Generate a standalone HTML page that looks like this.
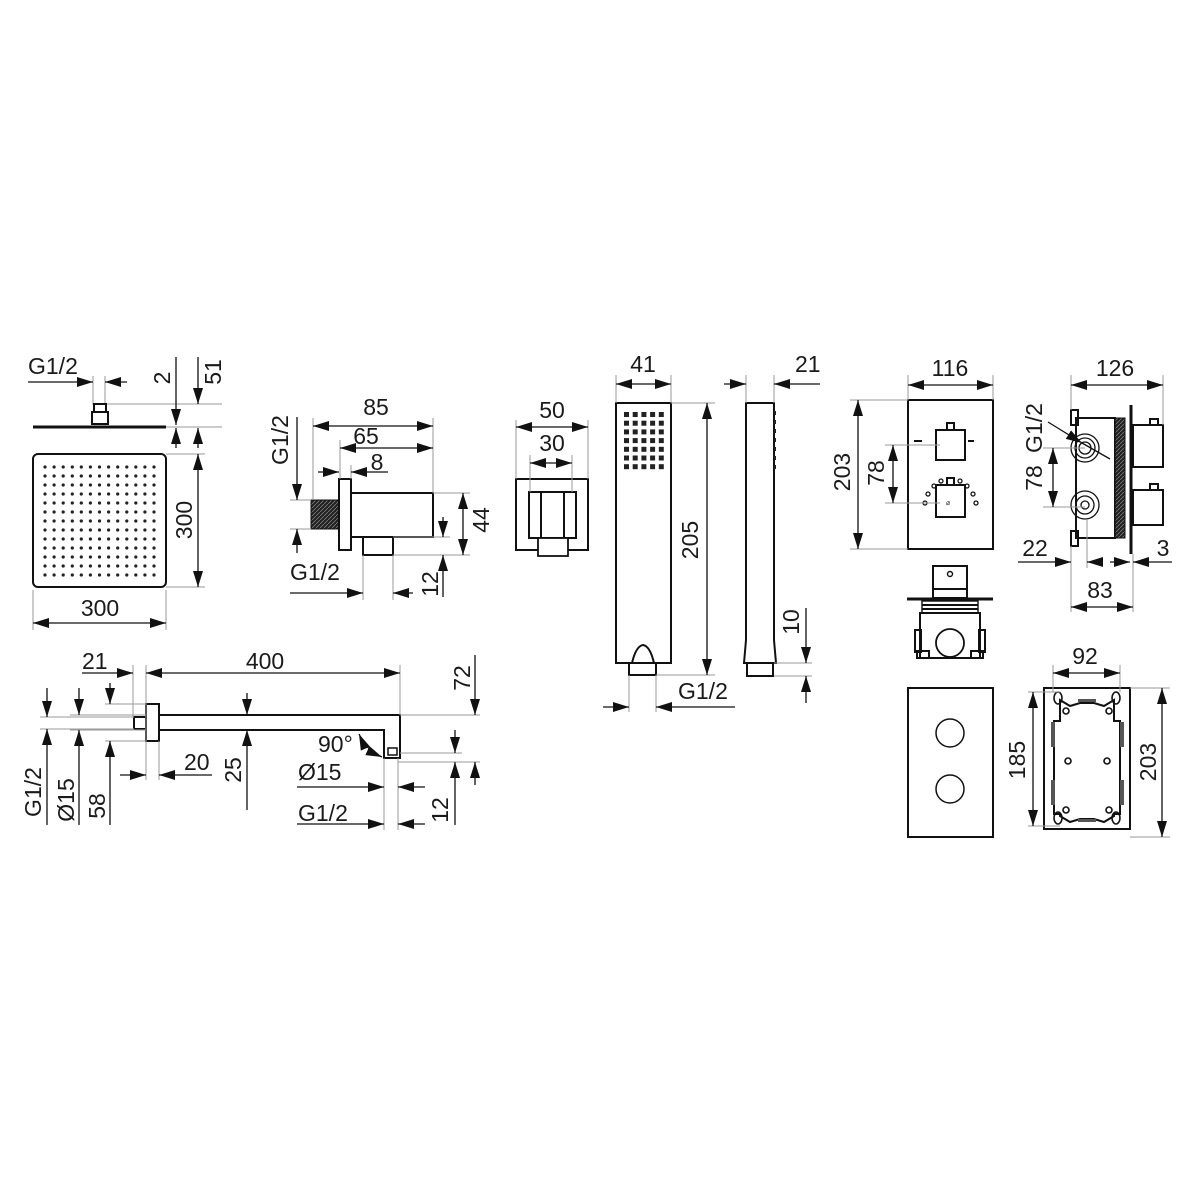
<!DOCTYPE html>
<html><head><meta charset="utf-8"><style>
html,body{margin:0;padding:0;background:#fff}
svg{display:block}
text{font-family:"Liberation Sans",sans-serif;font-size:23px;fill:#1a1a1a}
.e{stroke:#9a9a9a;stroke-width:1;fill:none}
.d{stroke:#111;stroke-width:1.3;fill:none}
.o{stroke:#111;stroke-width:2;fill:none}
</style></head><body>
<svg width="1200" height="1200" viewBox="0 0 1200 1200" xmlns="http://www.w3.org/2000/svg">
<defs>
<marker id="a" markerUnits="userSpaceOnUse" markerWidth="17" markerHeight="11" refX="16" refY="5" orient="auto-start-reverse"><path d="M0,0 L16,5 L0,10 z" fill="#111"/></marker>
<pattern id="h" width="4" height="4" patternUnits="userSpaceOnUse"><rect width="4" height="4" fill="#222"/><path d="M0,4 L4,0" stroke="#888" stroke-width="0.7"/></pattern>
</defs>

<!-- RAIN SHOWER -->
<text x="28" y="374">G1/2</text>
<line class="e" x1="93" y1="376" x2="93" y2="405"/><line class="e" x1="105" y1="376" x2="105" y2="405"/>
<line class="d" x1="28" y1="382" x2="93" y2="382" marker-end="url(#a)"/>
<line class="d" x1="127" y1="382" x2="105" y2="382" marker-end="url(#a)"/>
<rect class="o" x="94" y="404" width="12" height="8" stroke-width="1.5"/>
<rect class="o" x="92" y="412" width="16" height="12" stroke-width="1.5"/>
<line x1="33" y1="427" x2="166" y2="427" stroke="#111" stroke-width="3"/>
<line class="e" x1="107" y1="404" x2="222" y2="404"/><line class="e" x1="166" y1="427" x2="222" y2="427"/>
<line class="d" x1="176" y1="357" x2="176" y2="425" marker-end="url(#a)"/>
<line class="d" x1="176" y1="448" x2="176" y2="428" marker-end="url(#a)"/>
<line class="d" x1="198" y1="357" x2="198" y2="404" marker-end="url(#a)"/>
<line class="d" x1="198" y1="448" x2="198" y2="428" marker-end="url(#a)"/>
<text transform="translate(162,378) rotate(-90)" text-anchor="middle" dominant-baseline="central">2</text>
<text transform="translate(213,372) rotate(-90)" text-anchor="middle" dominant-baseline="central">51</text>
<rect class="o" x="33" y="454" width="133" height="133" rx="5" stroke-width="1.6"/>
<line class="e" x1="166" y1="454" x2="205" y2="454"/><line class="e" x1="166" y1="587" x2="205" y2="587"/>
<line class="d" x1="198" y1="454" x2="198" y2="587" marker-start="url(#a)" marker-end="url(#a)"/>
<text transform="translate(184,520) rotate(-90)" text-anchor="middle" dominant-baseline="central">300</text>
<line class="e" x1="33" y1="590" x2="33" y2="630"/><line class="e" x1="166" y1="590" x2="166" y2="630"/>
<line class="d" x1="33" y1="623" x2="166" y2="623" marker-start="url(#a)" marker-end="url(#a)"/>
<text x="100" y="616" text-anchor="middle">300</text>

<!-- WALL OUTLET -->
<rect x="311" y="500" width="28" height="29" fill="url(#h)" stroke="#111" stroke-width="1"/>
<rect class="o" x="339" y="479" width="12" height="71" stroke-width="1.6"/>
<rect class="o" x="351" y="493" width="82" height="44" stroke-width="1.6"/>
<rect class="o" x="363" y="537" width="30" height="18" stroke-width="1.6"/>
<line class="e" x1="313" y1="418" x2="313" y2="500"/><line class="e" x1="433" y1="418" x2="433" y2="493"/>
<line class="d" x1="313" y1="426" x2="433" y2="426" marker-start="url(#a)" marker-end="url(#a)"/>
<text x="376" y="415" text-anchor="middle">85</text>
<line class="e" x1="340" y1="440" x2="340" y2="479"/>
<line class="d" x1="340" y1="448" x2="433" y2="448" marker-start="url(#a)" marker-end="url(#a)"/>
<text x="366" y="444" text-anchor="middle">65</text>
<line class="e" x1="351" y1="465" x2="351" y2="479"/>
<line class="d" x1="318" y1="472" x2="339" y2="472" marker-end="url(#a)"/>
<line class="d" x1="388" y1="472" x2="351" y2="472" marker-end="url(#a)"/>
<text x="377" y="470" text-anchor="middle">8</text>
<line class="e" x1="290" y1="500" x2="311" y2="500"/><line class="e" x1="290" y1="529" x2="311" y2="529"/>
<line class="d" x1="297" y1="417" x2="297" y2="500" marker-end="url(#a)"/>
<line class="d" x1="297" y1="553" x2="297" y2="529" marker-end="url(#a)"/>
<text transform="translate(280,440) rotate(-90)" text-anchor="middle" dominant-baseline="central">G1/2</text>
<line class="e" x1="433" y1="493" x2="470" y2="493"/><line class="e" x1="393" y1="555" x2="470" y2="555"/><line class="e" x1="393" y1="537" x2="450" y2="537"/>
<line class="d" x1="463" y1="493" x2="463" y2="555" marker-start="url(#a)" marker-end="url(#a)"/>
<text transform="translate(481,520) rotate(-90)" text-anchor="middle" dominant-baseline="central">44</text>
<line class="d" x1="443" y1="517" x2="443" y2="537" marker-end="url(#a)"/>
<line class="d" x1="443" y1="597" x2="443" y2="555" marker-end="url(#a)"/>
<text transform="translate(430,584) rotate(-90)" text-anchor="middle" dominant-baseline="central">12</text>
<text x="290" y="580">G1/2</text>
<line class="e" x1="363" y1="555" x2="363" y2="600"/><line class="e" x1="393" y1="555" x2="393" y2="600"/>
<line class="d" x1="290" y1="593" x2="363" y2="593" marker-end="url(#a)"/>
<line class="d" x1="413" y1="593" x2="393" y2="593" marker-end="url(#a)"/>

<!-- SHOWER ARM -->
<rect class="o" x="134" y="717" width="12" height="12" stroke-width="2.5"/>
<rect class="o" x="146" y="704" width="13" height="37" stroke-width="1.8"/>
<path class="o" d="M159,715 H400 V758 H384 V730 H159" stroke-width="2.2"/>
<rect x="388" y="748" width="9" height="7" fill="none" stroke="#111" stroke-width="1.5"/>
<text x="82" y="669">21</text>
<text x="265" y="669" text-anchor="middle">400</text>
<line class="e" x1="133" y1="665" x2="133" y2="717"/><line class="e" x1="146" y1="665" x2="146" y2="780"/><line class="e" x1="159" y1="741" x2="159" y2="780"/><line class="e" x1="400" y1="665" x2="400" y2="715"/>
<line class="d" x1="82" y1="673" x2="133" y2="673" marker-end="url(#a)"/>
<line class="d" x1="146" y1="673" x2="400" y2="673" marker-start="url(#a)" marker-end="url(#a)"/>
<line class="d" x1="120" y1="775" x2="146" y2="775" marker-end="url(#a)"/>
<line class="d" x1="212" y1="775" x2="159" y2="775" marker-end="url(#a)"/>
<text x="184" y="770">20</text>
<line class="e" x1="40" y1="717" x2="134" y2="717"/><line class="e" x1="40" y1="729" x2="134" y2="729"/>
<line class="e" x1="70" y1="715" x2="146" y2="715"/><line class="e" x1="70" y1="730" x2="146" y2="730"/>
<line class="e" x1="105" y1="704" x2="146" y2="704"/><line class="e" x1="105" y1="741" x2="146" y2="741"/>
<line class="d" x1="47" y1="688" x2="47" y2="717" marker-end="url(#a)"/><line class="d" x1="47" y1="825" x2="47" y2="729" marker-end="url(#a)"/>
<line class="d" x1="79" y1="688" x2="79" y2="715" marker-end="url(#a)"/><line class="d" x1="79" y1="825" x2="79" y2="730" marker-end="url(#a)"/>
<line class="d" x1="110" y1="683" x2="110" y2="704" marker-end="url(#a)"/><line class="d" x1="110" y1="825" x2="110" y2="741" marker-end="url(#a)"/>
<text transform="translate(33,792) rotate(-90)" text-anchor="middle" dominant-baseline="central">G1/2</text>
<text transform="translate(66,800) rotate(-90)" text-anchor="middle" dominant-baseline="central">Ø15</text>
<text transform="translate(97,806) rotate(-90)" text-anchor="middle" dominant-baseline="central">58</text>
<line class="d" x1="247" y1="693" x2="247" y2="715" marker-end="url(#a)"/><line class="d" x1="247" y1="810" x2="247" y2="730" marker-end="url(#a)"/>
<text transform="translate(233,770) rotate(-90)" text-anchor="middle" dominant-baseline="central">25</text>
<line class="e" x1="400" y1="715" x2="480" y2="715"/><line class="e" x1="400" y1="753" x2="462" y2="753"/><line class="e" x1="398" y1="762" x2="480" y2="762"/>
<line class="d" x1="475" y1="655" x2="475" y2="715" marker-end="url(#a)"/><line class="d" x1="475" y1="785" x2="475" y2="762" marker-end="url(#a)"/>
<text transform="translate(462,678) rotate(-90)" text-anchor="middle" dominant-baseline="central">72</text>
<line class="d" x1="455" y1="730" x2="455" y2="753" marker-end="url(#a)"/><line class="d" x1="455" y1="825" x2="455" y2="762" marker-end="url(#a)"/>
<text transform="translate(440,810) rotate(-90)" text-anchor="middle" dominant-baseline="central">12</text>
<text x="318" y="752">90°</text>
<path class="d" d="M359,734 Q366,750 382,757" marker-start="url(#a)" marker-end="url(#a)"/>
<line class="e" x1="384" y1="758" x2="384" y2="830"/><line class="e" x1="398" y1="758" x2="398" y2="830"/>
<text x="298" y="780">Ø15</text>
<line class="d" x1="297" y1="787" x2="384" y2="787" marker-end="url(#a)"/><line class="d" x1="425" y1="787" x2="398" y2="787" marker-end="url(#a)"/>
<text x="298" y="821">G1/2</text>
<line class="d" x1="297" y1="824" x2="384" y2="824" marker-end="url(#a)"/><line class="d" x1="425" y1="824" x2="398" y2="824" marker-end="url(#a)"/>

<!-- HOLDER -->
<rect class="o" x="516" y="479" width="72" height="71" stroke-width="1.8"/>
<rect class="o" x="529" y="492" width="47" height="46" stroke-width="1.8"/>
<line class="o" x1="541" y1="492" x2="541" y2="538" stroke-width="1"/><line class="o" x1="564" y1="492" x2="564" y2="538" stroke-width="1"/>
<rect x="538" y="538" width="30" height="18" fill="#fff" stroke="#111" stroke-width="1.8"/>
<line class="e" x1="516" y1="420" x2="516" y2="479"/><line class="e" x1="588" y1="420" x2="588" y2="479"/>
<line class="d" x1="516" y1="427" x2="588" y2="427" marker-start="url(#a)" marker-end="url(#a)"/>
<text x="552" y="418" text-anchor="middle">50</text>
<line class="e" x1="530" y1="455" x2="530" y2="492"/><line class="e" x1="572" y1="455" x2="572" y2="492"/>
<line class="d" x1="530" y1="463" x2="572" y2="463" marker-start="url(#a)" marker-end="url(#a)"/>
<text x="552" y="451" text-anchor="middle">30</text>

<!-- HAND SHOWER -->
<rect class="o" x="616" y="403" width="55" height="260" stroke-width="1.8"/>
<path class="o" d="M632,663 Q636,646 643,645 Q650,646 654,663" stroke-width="1.6"/>
<rect class="o" x="629" y="663" width="27" height="12" stroke-width="1.8"/>
<line class="e" x1="616" y1="375" x2="616" y2="403"/><line class="e" x1="671" y1="375" x2="671" y2="403"/>
<line class="d" x1="616" y1="384" x2="671" y2="384" marker-start="url(#a)" marker-end="url(#a)"/>
<text x="643" y="372" text-anchor="middle">41</text>
<line class="e" x1="671" y1="403" x2="715" y2="403"/><line class="e" x1="656" y1="675" x2="715" y2="675"/>
<line class="d" x1="707" y1="403" x2="707" y2="675" marker-start="url(#a)" marker-end="url(#a)"/>
<text transform="translate(690,540) rotate(-90)" text-anchor="middle" dominant-baseline="central">205</text>
<line class="e" x1="629" y1="675" x2="629" y2="712"/><line class="e" x1="656" y1="675" x2="656" y2="712"/>
<line class="d" x1="603" y1="707" x2="629" y2="707" marker-end="url(#a)"/><line class="d" x1="735" y1="707" x2="656" y2="707" marker-end="url(#a)"/>
<text x="678" y="699">G1/2</text>
<path class="o" d="M746,403 H774 V640 L776,663 H744 L746,640 Z" stroke-width="1.8"/>
<g fill="#222"><rect x="774" y="411" width="2" height="4"/><rect x="774" y="420" width="2" height="4"/><rect x="774" y="429" width="2" height="4"/><rect x="774" y="438" width="2" height="4"/><rect x="774" y="447" width="2" height="4"/><rect x="774" y="456" width="2" height="4"/><rect x="774" y="465" width="2" height="4"/></g>
<rect class="o" x="747" y="663" width="26" height="13" stroke-width="1.8"/>
<line class="e" x1="746" y1="375" x2="746" y2="403"/><line class="e" x1="774" y1="375" x2="774" y2="403"/>
<line class="d" x1="724" y1="384" x2="746" y2="384" marker-end="url(#a)"/><line class="d" x1="820" y1="384" x2="774" y2="384" marker-end="url(#a)"/>
<text x="795" y="372">21</text>
<line class="e" x1="774" y1="663" x2="812" y2="663"/><line class="e" x1="774" y1="676" x2="812" y2="676"/>
<line class="d" x1="806" y1="608" x2="806" y2="663" marker-end="url(#a)"/><line class="d" x1="806" y1="703" x2="806" y2="676" marker-end="url(#a)"/>
<text transform="translate(791,622) rotate(-90)" text-anchor="middle" dominant-baseline="central">10</text>

<!-- MIXER FRONT -->
<rect class="o" x="908" y="400" width="85" height="149" stroke-width="1.8"/>
<rect class="o" x="936" y="430" width="29" height="30" stroke-width="1.6"/>
<rect class="o" x="947" y="423" width="7" height="7" stroke-width="1.4"/>
<rect class="o" x="936" y="485" width="29" height="32" stroke-width="1.6"/>
<rect class="o" x="947" y="478" width="7" height="7" stroke-width="1.4"/>
<g fill="none" stroke="#111" stroke-width="1.3"><circle cx="941" cy="481" r="2"/><circle cx="960" cy="481" r="2"/><circle cx="934" cy="486" r="2"/><circle cx="967" cy="486" r="2"/><circle cx="928" cy="494" r="2"/><circle cx="973" cy="494" r="2"/><circle cx="925" cy="503" r="2"/><circle cx="976" cy="503" r="2"/></g>
<text x="946" y="505" style="font-size:7px">&#x2300;</text>
<line class="o" x1="914" y1="441" x2="922" y2="441" stroke-width="1.2"/><line class="o" x1="968" y1="441" x2="974" y2="441" stroke-width="1.2"/>
<line class="e" x1="908" y1="375" x2="908" y2="400"/><line class="e" x1="993" y1="375" x2="993" y2="400"/>
<line class="d" x1="908" y1="385" x2="993" y2="385" marker-start="url(#a)" marker-end="url(#a)"/>
<text x="950" y="376" text-anchor="middle">116</text>
<line class="e" x1="850" y1="400" x2="908" y2="400"/><line class="e" x1="850" y1="549" x2="908" y2="549"/>
<line class="d" x1="858" y1="400" x2="858" y2="549" marker-start="url(#a)" marker-end="url(#a)"/>
<text transform="translate(842,472) rotate(-90)" text-anchor="middle" dominant-baseline="central">203</text>
<line class="e" x1="885" y1="445" x2="940" y2="445"/><line class="e" x1="885" y1="503" x2="940" y2="503"/>
<line class="d" x1="893" y1="445" x2="893" y2="503" marker-start="url(#a)" marker-end="url(#a)"/>
<text transform="translate(876,473) rotate(-90)" text-anchor="middle" dominant-baseline="central">78</text>

<!-- MIXER SIDE -->
<rect class="o" x="1076" y="418" width="39" height="120" stroke-width="1.8"/>
<rect class="o" x="1071" y="410" width="7" height="15" stroke-width="1.6"/>
<rect class="o" x="1071" y="531" width="7" height="15" stroke-width="1.6"/>
<rect x="1115" y="418" width="10" height="120" fill="url(#h)" stroke="#111" stroke-width="1"/>
<line x1="1131" y1="405" x2="1131" y2="554" stroke="#111" stroke-width="3"/>
<rect class="o" x="1133" y="425" width="30" height="42" stroke-width="1.8"/>
<rect class="o" x="1150" y="419" width="8" height="6" stroke-width="1.4"/>
<rect class="o" x="1133" y="490" width="30" height="35" stroke-width="1.8"/>
<rect class="o" x="1150" y="484" width="8" height="6" stroke-width="1.4"/>
<g fill="none" stroke="#111" stroke-width="1.3"><circle cx="1085" cy="448" r="14"/><circle cx="1085" cy="448" r="10"/><circle cx="1085" cy="448" r="6"/><circle cx="1085" cy="505" r="14"/><circle cx="1085" cy="505" r="9"/><circle cx="1085" cy="505" r="4"/></g>
<line class="e" x1="1071" y1="375" x2="1071" y2="410"/><line class="e" x1="1163" y1="375" x2="1163" y2="425"/>
<line class="d" x1="1071" y1="385" x2="1163" y2="385" marker-start="url(#a)" marker-end="url(#a)"/>
<text x="1115" y="376" text-anchor="middle">126</text>
<text transform="translate(1034,428) rotate(-90)" text-anchor="middle" dominant-baseline="central">G1/2</text>
<line class="d" x1="1048" y1="422" x2="1082" y2="443" marker-end="url(#a)"/>
<line class="d" x1="1082" y1="443" x2="1110" y2="459" stroke-width="2"/>
<line class="e" x1="1043" y1="448" x2="1085" y2="448"/><line class="e" x1="1043" y1="507" x2="1085" y2="507"/>
<line class="d" x1="1053" y1="448" x2="1053" y2="507" marker-start="url(#a)" marker-end="url(#a)"/>
<text transform="translate(1034,478) rotate(-90)" text-anchor="middle" dominant-baseline="central">78</text>
<line class="e" x1="1071" y1="546" x2="1071" y2="612"/><line class="e" x1="1087" y1="519" x2="1087" y2="568"/><line class="e" x1="1133" y1="554" x2="1133" y2="612"/>
<line class="d" x1="1018" y1="562" x2="1071" y2="562" marker-end="url(#a)"/><line class="d" x1="1102" y1="562" x2="1087" y2="562" marker-end="url(#a)"/>
<text x="1035" y="556" text-anchor="middle">22</text>
<line class="d" x1="1110" y1="562" x2="1130" y2="562" marker-end="url(#a)"/><line class="d" x1="1172" y1="562" x2="1133" y2="562" marker-end="url(#a)"/>
<text x="1163" y="556" text-anchor="middle">3</text>
<line class="d" x1="1071" y1="607" x2="1133" y2="607" marker-start="url(#a)" marker-end="url(#a)"/>
<text x="1100" y="598" text-anchor="middle">83</text>

<!-- MIXER BODY -->
<rect class="o" x="933" y="566" width="34" height="32" stroke-width="1.8"/>
<line class="o" x1="933" y1="589" x2="967" y2="589" stroke-width="1.3"/>
<circle cx="950" cy="574" r="2.5" fill="none" stroke="#111" stroke-width="1.4"/>
<line x1="907" y1="599" x2="993" y2="599" stroke="#111" stroke-width="3"/>
<rect x="922" y="601" width="56" height="12" fill="#fff" stroke="#111" stroke-width="1.4"/>
<line x1="922" y1="605" x2="978" y2="605" stroke="#111" stroke-width="2"/><line x1="922" y1="609" x2="978" y2="609" stroke="#111" stroke-width="2"/>
<rect class="o" x="920" y="613" width="60" height="45" stroke-width="1.8"/>
<rect class="o" x="915" y="630" width="6" height="22" stroke-width="1.6"/><rect class="o" x="979" y="630" width="6" height="22" stroke-width="1.6"/>
<rect class="o" x="917" y="651" width="12" height="7" stroke-width="1.4"/><rect class="o" x="971" y="651" width="12" height="7" stroke-width="1.4"/>
<circle cx="950" cy="643" r="14" fill="#fff" stroke="#111" stroke-width="1.8"/>

<!-- BOTTOM FRONT -->
<rect class="o" x="908" y="688" width="85" height="149" stroke-width="1.8"/>
<circle cx="950" cy="733" r="14" fill="none" stroke="#111" stroke-width="1.5"/>
<circle cx="950" cy="789" r="14" fill="none" stroke="#111" stroke-width="1.5"/>

<!-- BOX -->
<rect class="o" x="1044" y="688" width="86" height="141" stroke-width="1.3"/>
<path class="o" d="M1060,700 L1070,706 L1080,703 H1094 L1104,706 L1114,700 V721 H1120 V814 H1114 V816 L1104,822 L1094,819 H1080 L1070,822 L1060,816 V814 H1054 V721 H1060 Z" stroke-width="1.6"/>
<g fill="none" stroke="#111" stroke-width="1.6"><ellipse cx="1058" cy="698" rx="4" ry="6"/><ellipse cx="1116" cy="698" rx="4" ry="6"/><ellipse cx="1058" cy="818" rx="4" ry="6"/><ellipse cx="1116" cy="818" rx="4" ry="6"/>
<circle cx="1066" cy="711" r="3"/><circle cx="1109" cy="711" r="3"/><circle cx="1068" cy="761" r="3"/><circle cx="1107" cy="761" r="3"/><circle cx="1066" cy="810" r="3"/><circle cx="1109" cy="810" r="3"/></g>
<g fill="#555"><rect x="1051" y="722" width="4" height="25"/><rect x="1120" y="722" width="4" height="25"/><rect x="1051" y="780" width="4" height="25"/><rect x="1120" y="780" width="4" height="25"/><rect x="1078" y="699" width="18" height="3"/><rect x="1078" y="819" width="18" height="3"/></g>
<line class="e" x1="1053" y1="665" x2="1053" y2="692"/><line class="e" x1="1120" y1="665" x2="1120" y2="692"/>
<line class="d" x1="1053" y1="673" x2="1120" y2="673" marker-start="url(#a)" marker-end="url(#a)"/>
<text x="1085" y="664" text-anchor="middle">92</text>
<line class="e" x1="1028" y1="692" x2="1060" y2="692"/><line class="e" x1="1028" y1="826" x2="1060" y2="826"/>
<line class="d" x1="1033" y1="692" x2="1033" y2="826" marker-start="url(#a)" marker-end="url(#a)"/>
<text transform="translate(1017,760) rotate(-90)" text-anchor="middle" dominant-baseline="central">185</text>
<line class="e" x1="1130" y1="688" x2="1170" y2="688"/><line class="e" x1="1130" y1="837" x2="1170" y2="837"/>
<line class="d" x1="1162" y1="688" x2="1162" y2="837" marker-start="url(#a)" marker-end="url(#a)"/>
<text transform="translate(1148,762) rotate(-90)" text-anchor="middle" dominant-baseline="central">203</text>

<!-- dot grids -->
<g fill="#222">
<g id="row"><circle cx="45" cy="467" r="1.6"/><circle cx="54.1" cy="467" r="1.6"/><circle cx="63.2" cy="467" r="1.6"/><circle cx="72.3" cy="467" r="1.6"/><circle cx="81.3" cy="467" r="1.6"/><circle cx="90.4" cy="467" r="1.6"/><circle cx="99.5" cy="467" r="1.6"/><circle cx="108.6" cy="467" r="1.6"/><circle cx="117.7" cy="467" r="1.6"/><circle cx="126.8" cy="467" r="1.6"/><circle cx="135.8" cy="467" r="1.6"/><circle cx="144.9" cy="467" r="1.6"/><circle cx="154" cy="467" r="1.6"/></g>
<use href="#row" y="9"/><use href="#row" y="18"/><use href="#row" y="27"/><use href="#row" y="36"/><use href="#row" y="45"/><use href="#row" y="54"/><use href="#row" y="63"/><use href="#row" y="72"/><use href="#row" y="81"/><use href="#row" y="90"/><use href="#row" y="99"/><use href="#row" y="108"/>
</g>
<g fill="#222">
<g id="hr"><rect x="624" y="412" width="5" height="5"/><rect x="632.7" y="412" width="5" height="5"/><rect x="641.4" y="412" width="5" height="5"/><rect x="650.1" y="412" width="5" height="5"/><rect x="658.8" y="412" width="5" height="5"/></g>
<use href="#hr" y="8.7"/><use href="#hr" y="17.4"/><use href="#hr" y="26.1"/><use href="#hr" y="34.8"/><use href="#hr" y="43.5"/><use href="#hr" y="52.2"/>
</g>
</svg>
</body></html>
